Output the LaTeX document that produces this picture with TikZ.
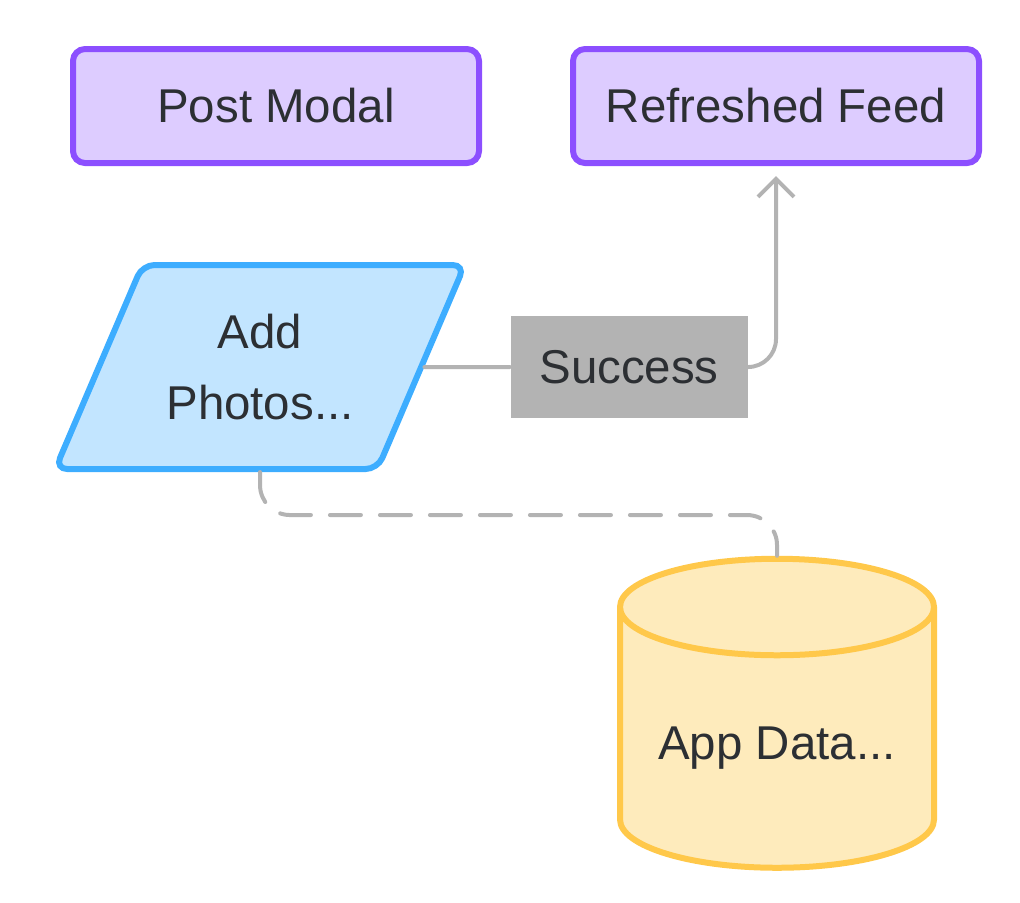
\documentclass[tikz,border=0pt]{standalone}
\usepackage{fontspec}
\setmainfont{Liberation Sans}
\usetikzlibrary{shapes.geometric}
\usetikzlibrary{arrows.meta}
\usetikzlibrary{positioning}
\definecolor{modalfill}{HTML}{DDCCFF}
\definecolor{modaldraw}{HTML}{8C4FFF}
\definecolor{inputfill}{HTML}{C2E5FF}
\definecolor{inputdraw}{HTML}{3DADFF}
\definecolor{storefill}{HTML}{FEEBBC}
\definecolor{storedraw}{HTML}{FFC84A}
\definecolor{linkgray}{HTML}{B3B3B3}
\definecolor{ink}{HTML}{2C2F33}

\begin{document}
\begin{tikzpicture}
\tikzset{screen/.style={rectangle,rounded corners=0.12cm,draw=modaldraw,fill=modalfill,line width=0.06cm,minimum width=4.06cm,minimum height=1.14cm,text=ink,font=\fontsize{13.5}{16}\selectfont},
inputbox/.style={trapezium,trapezium left angle=59,trapezium right angle=121,trapezium stretches=true,rounded corners=0.12cm,draw=inputdraw,fill=inputfill,line width=0.06cm,minimum width=4.1cm,minimum height=2.04cm,text=ink,align=center,font=\fontsize{13.5}{20.4}\selectfont},
outcome/.style={rectangle,fill=linkgray,minimum width=2.37cm,minimum height=1.02cm,text=ink,font=\fontsize{13.5}{16}\selectfont},
store/.style={cylinder,shape border rotate=90,aspect=0.37,draw=storedraw,fill=storefill,line width=0.06cm,minimum width=3.14cm,minimum height=3.09cm,text=ink,font=\fontsize{13.5}{16}\selectfont},
link/.style={draw=linkgray,line width=0.04cm,line cap=round}}
\useasboundingbox (0,0) rectangle (10.2,-9.02);
\node[screen](pm) at (2.76,-1.06){Post Modal};
\node[screen](rf)[right=0.88cm of pm]{Refreshed Feed};
\node[inputbox](ap) at (2.60,-3.67){Add\\Photos...};
\node[outcome](sc) at (6.29,-3.67){Success};
\node[store](db) at (7.77,-7.48){App Data...};
\draw[link](ap) -- (sc);
\draw[link,rounded corners=0.28cm,shorten >=0.1cm,-{Straight Barb[length=0.18cm,width=0.36cm]}](sc.east) -| (rf.south);
\draw[link,dash pattern=on 0.31cm off 0.19cm,rounded corners=0.3cm](ap.south) -- ++(0,-0.43) -| (db.north);
\end{tikzpicture}
\end{document}
